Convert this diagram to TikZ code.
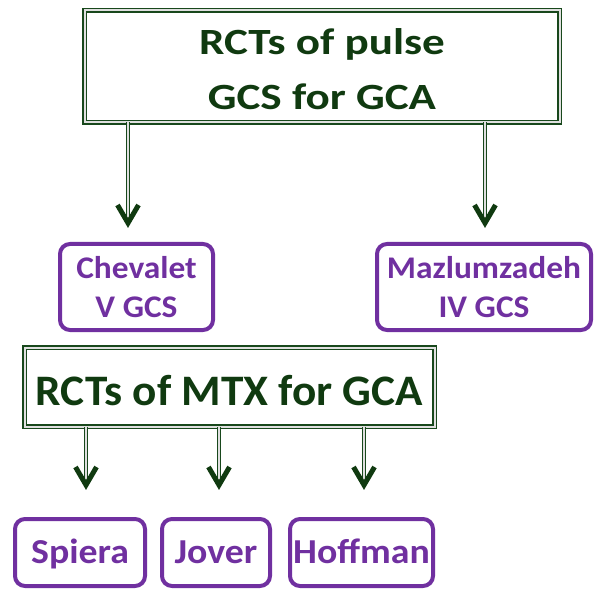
\documentclass[tikz,border=0pt]{standalone}
\usepackage{fontspec}
\setmainfont{Carlito}
\newfontfamily\fTop[FakeStretch=1.22]{Carlito}
\newfontfamily\fMtx[FakeStretch=1.04]{Carlito}
\newfontfamily\fLeafA[FakeStretch=1.06]{Carlito}
\newfontfamily\fLeafB[FakeStretch=1.08]{Carlito}
\definecolor{dg}{RGB}{16,58,16}
\definecolor{dgline}{RGB}{24,72,28}
\definecolor{pur}{RGB}{112,48,160}
\begin{document}
\begin{tikzpicture}[x=1pt,y=-1pt,
  dblbox/.style={draw=dgline, line width=1.5pt, double=black!12, double distance=2pt,
    inner sep=0pt, outer sep=0pt, align=center, text=dg},
  leaf/.style={draw=pur, line width=4pt, rounded corners=10pt, inner sep=0pt,
    outer sep=0pt, align=center, text=pur},
  shaft/.style={draw=dgline, line width=1.3pt, double=black!12, double distance=1.8pt},
  head/.style={draw=dg, line width=5pt, line join=miter}]
\useasboundingbox (0,0) rectangle (595,591);
% main boxes
\node[dblbox, minimum width=475, minimum height=112, text height=87pt, text depth=0pt,
  font=\fTop\bfseries\fontsize{37}{55}\selectfont]
  (top) at (322,66.5) {RCTs of pulse\\GCS for GCA};
\node[dblbox, minimum width=410, minimum height=79, text height=36pt, text depth=0pt,
  font=\fMtx\bfseries\fontsize{43.5}{50}\selectfont]
  (mtx) at (229.5,387) {RCTs of MTX for GCA};
% leaves
\node[leaf, minimum width=153, minimum height=86, text height=60pt, text depth=0pt,
  font=\fLeafA\bfseries\fontsize{31.5}{39}\selectfont]
  (chev) at (136.5,287) {Chevalet\\V GCS};
\node[leaf, minimum width=214, minimum height=86, text height=60pt, text depth=0pt,
  font=\fLeafA\bfseries\fontsize{31.5}{39}\selectfont]
  (maz) at (484,287) {Mazlumzadeh\\IV GCS};
\node[leaf, minimum width=130, minimum height=67, text height=21pt, text depth=0pt,
  font=\fLeafB\bfseries\fontsize{35}{40}\selectfont]
  (spi) at (80,552.5) {Spiera};
\node[leaf, minimum width=108, minimum height=67, text height=21pt, text depth=0pt,
  font=\fLeafB\bfseries\fontsize{35}{40}\selectfont]
  (jov) at (216,552.5) {Jover};
\node[leaf, minimum width=143, minimum height=67, text height=21pt, text depth=0pt,
  font=\fLeafB\bfseries\fontsize{35}{40}\selectfont]
  (hof) at (361.5,552.5) {Hoffman};
% arrow tips
\coordinate (t1) at (128,223);
\coordinate (t2) at (485,223);
\coordinate (t3) at (86,485);
\coordinate (t4) at (219,485);
\coordinate (t5) at (364,485);
\foreach \t in {t1,t2} {
  \draw[shaft] (top.south -| \t) -- ([yshift=3pt]\t);
}
\foreach \t in {t3,t4,t5} {
  \draw[shaft] (mtx.south -| \t) -- ([yshift=3pt]\t);
}
\foreach \t in {t1,t2,t3,t4,t5} {
  \draw[head] ([shift={(-10.5,-18)}]\t) -- (\t) -- ([shift={(10.5,-18)}]\t);
}
\end{tikzpicture}
\end{document}
